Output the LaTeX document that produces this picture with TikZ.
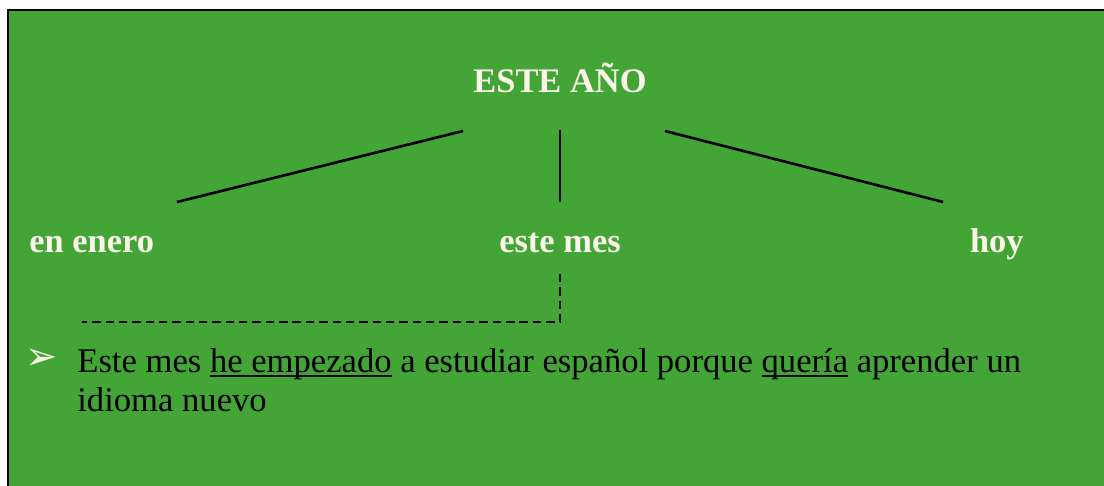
\documentclass[tikz,border=0pt]{standalone}
\usepackage{fontspec}
\setmainfont{Liberation Serif}
\newfontfamily\symfont{DejaVu Sans}
\definecolor{boxgreen}{RGB}{67,165,54}
\definecolor{cream}{RGB}{250,245,232}
\newcommand\subr[1]{\setbox0\hbox{#1}\rlap{\rule[-2.8pt]{\wd0}{1.1pt}}\box0\relax}
\tikzset{
  lbl/.style={inner sep=0pt,anchor=base,text=cream,font=\fontsize{19.6}{22}\selectfont\bfseries},
  txt/.style={inner sep=0pt,anchor=base west,font=\fontsize{19.7}{22}\selectfont},
  tline/.style={line width=1.5pt},
  dline/.style={line width=1.4pt,dash pattern=on 4.8pt off 2.8pt}
}
\begin{document}
\begin{tikzpicture}[x=0.02cm,y=-0.02cm]
\useasboundingbox (0,0) rectangle (1104,486);
\fill[white] (0,0) rectangle (1104,486);
\clip (0,0) rectangle (1104,486);
\draw[fill=boxgreen,line width=1.4pt] (8,10) rectangle (1120,500);
% labels
\node[lbl] (anio) at (560,93) {ESTE AÑO};
\node[lbl,anchor=base west] (enero) at (29,252) {en enero};
\node[lbl] (mes) at (560,252) {este mes};
\node[lbl,anchor=base east] (hoy) at (1024,252) {hoy};
% tree lines
\coordinate (anio-l) at (463,131);\coordinate (enero-t) at (177,202);
\coordinate (anio-m) at (560,130);\coordinate (mes-t) at (560,202);
\coordinate (anio-r) at (665,131);\coordinate (hoy-t) at (943,202);
\draw[tline] (anio-l) -- (enero-t);
\draw[tline] (anio-m) -- (mes-t);
\draw[tline] (anio-r) -- (hoy-t);
% dashed link
\coordinate (mes-b) at (560,274);\coordinate (dash-c) at (560,322);\coordinate (dash-e) at (82,322);
\draw[dline] (mes-b) -- (dash-c) -- (dash-e);
% sentence
\node[inner sep=0pt,text=cream,font=\symfont\fontsize{22}{26}\selectfont] (flecha) at (42,359) {➢};
\node[txt] (frase1) at (77,372) {Este mes \subr{he empezado} a estudiar español porque \subr{quería} aprender un};
\node[txt] (frase2) at (77,411) {idioma nuevo};
\end{tikzpicture}
\end{document}
